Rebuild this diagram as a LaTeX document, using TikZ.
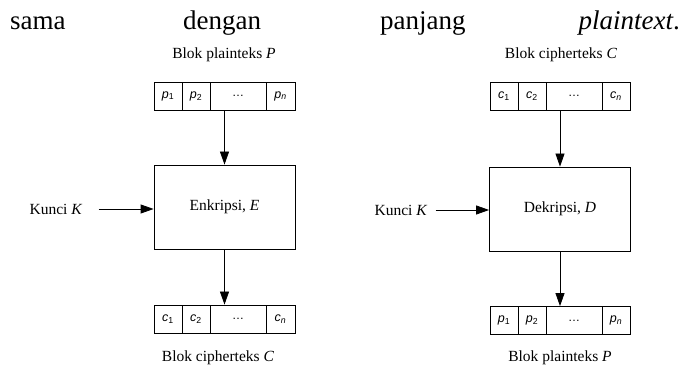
\documentclass[tikz,border=0pt]{standalone}
\usepackage{fontspec}
\setmainfont{Liberation Serif}
\newfontfamily\cellfont{Liberation Sans}
\usetikzlibrary{arrows.meta}
\begin{document}
\begin{tikzpicture}[x=1pt,y=1pt,
  cellbox/.style={draw,line width=0.8pt,minimum height=28pt,inner sep=0pt,font=\cellfont\fontsize{12.5}{12}\selectfont\itshape},
  procbox/.style={draw,line width=0.8pt,minimum width=141pt,minimum height=84pt,inner sep=0pt,font=\fontsize{15.5}{16}\selectfont},
  lbl/.style={inner sep=0pt,font=\fontsize{15.5}{16}\selectfont},
  hdr/.style={inner sep=0pt,font=\fontsize{27}{30}\selectfont},
  arr/.style={-{Triangle[length=13pt,width=9pt]},line width=0.8pt}]
\useasboundingbox (0,0) rectangle (680,369);
% header line
\node[hdr,anchor=base west] (w1) at (10,339) {sama};
\node[hdr,anchor=base west] (w2) at (183,339) {dengan};
\node[hdr,anchor=base west] (w3) at (380,339) {panjang};
\node[hdr,anchor=base east] (w4) at (680,339) {\textit{plaintext}.};
% ---------- left: encryption ----------
\node[lbl] (lt) at (224,314) {Blok plainteks \textit{P}};
\node[cellbox,minimum width=28pt] (a1) at (168,273) {p\textsubscript{\upshape 1}};
\node[cellbox,minimum width=28pt] (a2) at (196,273) {p\textsubscript{\upshape 2}};
\node[cellbox,minimum width=56pt,font=\cellfont\fontsize{12}{12}\selectfont] (a3) at (238,273) {\dots};
\node[cellbox,minimum width=29pt] (a4) at (280.5,273) {p\textsubscript{n}};
\node[procbox] (enc) at (224.5,162) {Enkripsi, \textit{E}};
\node[lbl] (k1) at (56,160) {Kunci \textit{K}};
\node[cellbox,minimum width=28pt] (b1) at (168,50) {c\textsubscript{\upshape 1}};
\node[cellbox,minimum width=28pt] (b2) at (196,50) {c\textsubscript{\upshape 2}};
\node[cellbox,minimum width=56pt,font=\cellfont\fontsize{12}{12}\selectfont] (b3) at (238,50) {\dots};
\node[cellbox,minimum width=29pt] (b4) at (280.5,50) {c\textsubscript{n}};
\node[lbl] (lb) at (218,11) {Blok cipherteks \textit{C}};
\draw[arr] (a3.south -| enc.north) -- (enc.north);
\draw[arr] ([xshift=16pt]k1.east) -- (k1.east -| enc.west);
\draw[arr] (enc.south) -- (enc.south |- b3.north);
% ---------- right: decryption ----------
\node[lbl] (rt) at (561,314) {Blok cipherteks \textit{C}};
\node[cellbox,minimum width=28pt] (c1) at (504,273) {c\textsubscript{\upshape 1}};
\node[cellbox,minimum width=28pt] (c2) at (532,273) {c\textsubscript{\upshape 2}};
\node[cellbox,minimum width=56pt,font=\cellfont\fontsize{12}{12}\selectfont] (c3) at (574,273) {\dots};
\node[cellbox,minimum width=28pt] (c4) at (616,273) {c\textsubscript{n}};
\node[procbox] (dec) at (560,160) {Dekripsi, \textit{D}};
\node[lbl] (k2) at (401,159) {Kunci \textit{K}};
\node[cellbox,minimum width=28pt] (d1) at (504,48.5) {p\textsubscript{\upshape 1}};
\node[cellbox,minimum width=28pt] (d2) at (532,48.5) {p\textsubscript{\upshape 2}};
\node[cellbox,minimum width=56pt,font=\cellfont\fontsize{12}{12}\selectfont] (d3) at (574,48.5) {\dots};
\node[cellbox,minimum width=28pt] (d4) at (616,48.5) {p\textsubscript{n}};
\node[lbl] (rb) at (560,11) {Blok plainteks \textit{P}};
\draw[arr] (c3.south -| dec.north) -- (dec.north);
\draw[arr] ([xshift=8pt]k2.east) -- (k2.east -| dec.west);
\draw[arr] (dec.south) -- (dec.south |- d3.north);
\end{tikzpicture}
\end{document}
